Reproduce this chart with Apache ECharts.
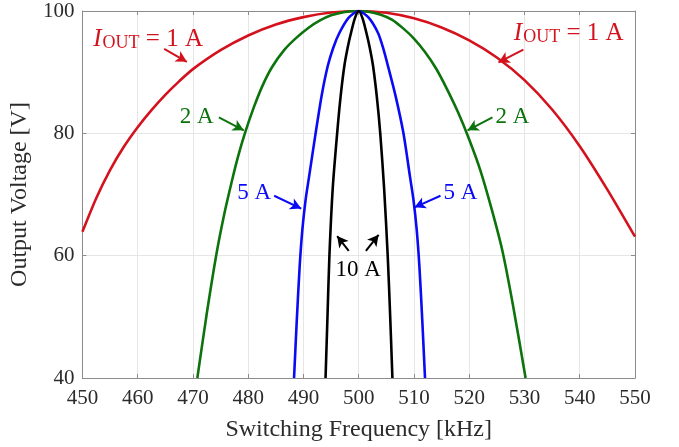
<!DOCTYPE html>
<html>
<head>
<meta charset="utf-8">
<script src="https://cdn.jsdelivr.net/npm/echarts@6/dist/echarts.min.js"></script>
<style>
  html, body { margin: 0; padding: 0; background: #fff; }
  #chart { width: 679px; height: 447px; }
</style>
</head>
<body>
<div id="chart"></div>
<script>
// Output voltage vs. switching frequency for several load currents
// Each point: [frequency kHz, output voltage V]
const curve1A = [
  [450, 63.9], [452.5, 69.4], [455, 74.0], [457.5, 77.8], [460, 81.0], [462.5, 83.8],
  [465, 86.3], [467.5, 88.5], [470, 90.5], [475, 93.6], [480, 96.0], [485, 97.8],
  [490, 99.0], [495, 99.75], [500, 100],
  [505, 99.7], [510, 98.8], [515, 97.3], [520, 95.2], [525, 92.4], [530, 88.7],
  [535, 83.9], [540, 77.9], [545, 70.8], [550, 63.1]
];
const curve2A = [
  [470.8, 40], [472.5, 50.5], [474.2, 60], [475.6, 66.5], [477, 72], [478.2, 76.3],
  [479.4, 80], [481, 84.2], [482.6, 87.8], [484.3, 90.8], [486.5, 93.6], [488.7, 95.6],
  [491, 97.3], [493, 98.45], [495, 99.3], [497.5, 99.85], [500, 100],
  [502, 99.85], [504, 99.4], [506, 98.6], [508, 97.2], [510, 95.5], [512, 93.3],
  [514, 90.6], [516, 87.2], [518, 83.4], [520, 79.0], [522, 74.0], [524, 67.8],
  [526, 60.8], [528, 51.5], [530.2, 40]
];
const curve5A = [
  [488.3, 40], [488.8, 49.5], [489.3, 58], [489.8, 64.2], [490.4, 69.2], [491, 72.8],
  [492.2, 80], [493.3, 86.2], [494.4, 91], [495.4, 94.0], [496.5, 96.4], [498.2, 98.9],
  [500, 100],
  [501.8, 98.9], [503.5, 96.4], [504.4, 94.0], [505.3, 91], [506.7, 86], [508.1, 80],
  [509.3, 72.8], [509.9, 69.2], [510.5, 64.2], [511, 58], [511.5, 49.5], [512, 40]
];
const curve10A = [
  [494.0, 40], [494.35, 50], [494.7, 60], [495.3, 71], [496.1, 80], [496.7, 85.8],
  [497.4, 91], [498.0, 94], [498.6, 96.4], [499.3, 98.8], [500, 100],
  [500.7, 98.8], [501.4, 96.4], [502.0, 94], [502.6, 91], [503.3, 85.8], [503.9, 80],
  [504.6, 71], [505.25, 60], [505.7, 50], [506.1, 40]
];

const xTicks = { min: 450, max: 550, step: 10 };
const yTicks = { min: 40, max: 100, step: 20 };

// Annotation text anchors [f, V] and arrow [tail, tip] pairs
const labels1A = [[461.9, 95.6], [538.0, 96.6]];
const arrows1A = [[[464.8, 93.8], [468.9, 91.7]], [[529.8, 93.7], [525.3, 91.6]]];
const labels2A = [[470.7, 82.6], [527.8, 82.6]];
const arrows2A = [[[474.7, 82.6], [479.2, 80.5]], [[524.2, 82.6], [519.7, 80.5]]];
const labels5A = [[481.1, 70.2], [518.4, 70.2]];
const arrows5A = [[[484.7, 69.8], [489.6, 67.7]], [[514.8, 69.8], [510.1, 67.9]]];
const labels10A = [[499.9, 57.6]];
const arrows10A = [[[498.2, 60.8], [496.1, 63.2]], [[501.3, 60.8], [503.6, 63.4]]];

const SERIF = '"Liberation Serif", "DejaVu Serif", serif';
const COLORS = { a1: '#d4121e', a2: '#0d730d', a5: '#0a0af5', a10: '#000000' };

function markPoints(coords, text, color, rich) {
  return {
    symbol: 'circle',
    symbolSize: 1,
    silent: true,
    itemStyle: { color: 'rgba(0,0,0,0)' },
    label: {
      show: true,
      position: 'inside',
      formatter: text,
      color: color,
      fontFamily: SERIF,
      fontSize: 23,
      rich: rich
    },
    data: coords.map(c => ({ coord: c }))
  };
}

function markArrows(pairs, color) {
  return {
    silent: true,
    symbol: ['none', 'arrow'],
    symbolSize: [9, 11],
    label: { show: false },
    lineStyle: { color: color, width: 2, type: 'solid' },
    emphasis: { disabled: true },
    data: pairs.map(p => [{ coord: p[0] }, { coord: p[1] }])
  };
}

const richIout = {
  i: { fontFamily: SERIF, fontSize: 25, fontStyle: 'italic', color: COLORS.a1, verticalAlign: 'bottom', lineHeight: 28, padding: [0, 1, 0, 0] },
  s: { fontFamily: SERIF, fontSize: 18, color: COLORS.a1, verticalAlign: 'bottom', lineHeight: 22 },
  n: { fontFamily: SERIF, fontSize: 25, color: COLORS.a1, verticalAlign: 'bottom', lineHeight: 28 }
};

function curveSeries(name, data, color, extra) {
  return Object.assign({
    name: name,
    type: 'line',
    data: data,
    smooth: 0.25,
    showSymbol: false,
    symbol: 'none',
    clip: true,
    lineStyle: { color: color, width: 2.6 },
    itemStyle: { color: color },
    emphasis: { disabled: true },
    z: 3
  }, extra || {});
}

const axisLabelStyle = { fontFamily: SERIF, fontSize: 21, color: '#2b2b2b' };
const boxLine = { show: true, lineStyle: { color: '#8c8c8c', width: 1 } };
const gridLine = { show: true, lineStyle: { color: '#e6e6e6', width: 1 } };

const option = {
  animation: false,
  backgroundColor: '#ffffff',
  grid: { left: 80, right: 44, top: 11, bottom: 66, containLabel: false },
  xAxis: [
    {
      type: 'value', min: xTicks.min, max: xTicks.max, interval: xTicks.step,
      name: 'Switching Frequency [kHz]', nameLocation: 'middle', nameGap: 40,
      nameTextStyle: { fontFamily: SERIF, fontSize: 24, color: '#2b2b2b' },
      axisLine: boxLine,
      axisTick: { show: true, inside: true, length: 4, lineStyle: { color: '#8c8c8c' } },
      axisLabel: Object.assign({ margin: 10 }, axisLabelStyle),
      splitLine: gridLine
    },
    {
      type: 'value', position: 'top', min: xTicks.min, max: xTicks.max, interval: xTicks.step,
      axisLine: boxLine,
      axisTick: { show: true, inside: true, length: 4, lineStyle: { color: '#8c8c8c' } },
      axisLabel: { show: false }, splitLine: { show: false }
    }
  ],
  yAxis: [
    {
      type: 'value', min: yTicks.min, max: yTicks.max, interval: yTicks.step,
      name: 'Output Voltage [V]', nameLocation: 'middle', nameGap: 38,
      nameTextStyle: { fontFamily: SERIF, fontSize: 24, color: '#2b2b2b' },
      axisLine: boxLine,
      axisTick: { show: true, inside: true, length: 4, lineStyle: { color: '#8c8c8c' } },
      axisLabel: Object.assign({ margin: 8 }, axisLabelStyle),
      splitLine: gridLine
    },
    {
      type: 'value', position: 'right', min: yTicks.min, max: yTicks.max, interval: yTicks.step,
      axisLine: boxLine,
      axisTick: { show: true, inside: true, length: 4, lineStyle: { color: '#8c8c8c' } },
      axisLabel: { show: false }, splitLine: { show: false }
    }
  ],
  series: [
    curveSeries('1 A', curve1A, COLORS.a1, {
      markPoint: markPoints(labels1A, '{i|I}{s|OUT}{n| = 1 A}', COLORS.a1, richIout),
      markLine: markArrows(arrows1A, COLORS.a1)
    }),
    curveSeries('2 A', curve2A, COLORS.a2, {
      markPoint: markPoints(labels2A, '2 A', COLORS.a2),
      markLine: markArrows(arrows2A, COLORS.a2)
    }),
    curveSeries('5 A', curve5A, COLORS.a5, {
      markPoint: markPoints(labels5A, '5 A', COLORS.a5),
      markLine: markArrows(arrows5A, COLORS.a5)
    }),
    curveSeries('10 A', curve10A, COLORS.a10, {
      markPoint: markPoints(labels10A, '10 A', COLORS.a10),
      markLine: markArrows(arrows10A, COLORS.a10)
    })
  ]
};

const chart = echarts.init(document.getElementById('chart'), null, { renderer: 'canvas' });
chart.setOption(option);
</script>
</body>
</html>
